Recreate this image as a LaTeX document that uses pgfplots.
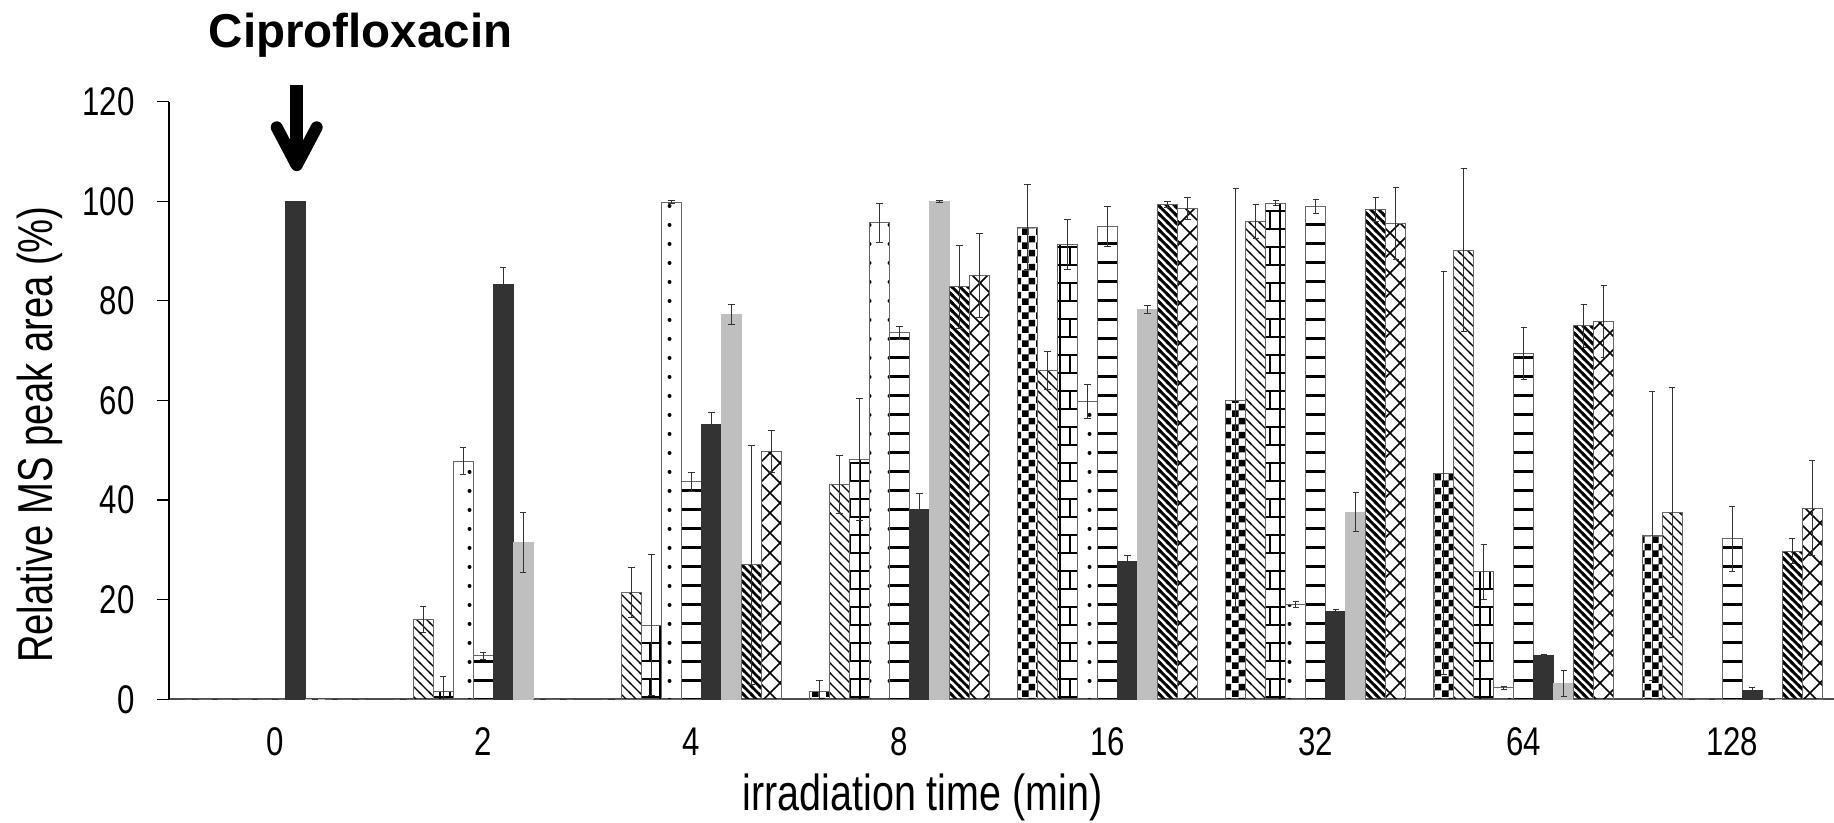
\documentclass[border=0pt]{standalone}
\usepackage{pgfplots}
\pgfplotsset{compat=1.18}
\usetikzlibrary{patterns}
\usepackage{fontspec}
\setmainfont{Liberation Sans}[FakeStretch=0.78]
\newfontfamily\titlefont{Liberation Sans}

% checkerboard
\pgfdeclarepatternformonly{pchecker}{\pgfqpoint{0pt}{0pt}}{\pgfqpoint{7pt}{7pt}}{\pgfqpoint{7pt}{7pt}}{%
  \pgfpathrectangle{\pgfqpoint{0pt}{0pt}}{\pgfqpoint{3.5pt}{3.5pt}}%
  \pgfpathrectangle{\pgfqpoint{3.5pt}{3.5pt}}{\pgfqpoint{3.5pt}{3.5pt}}%
  \pgfusepath{fill}}
% thin diagonal "\"
\pgfdeclarepatternformonly{pthindiag}{\pgfqpoint{-1pt}{-1pt}}{\pgfqpoint{6pt}{6pt}}{\pgfqpoint{5pt}{5pt}}{%
  \pgfsetlinewidth{0.6pt}%
  \pgfpathmoveto{\pgfqpoint{-0.5pt}{5.5pt}}\pgfpathlineto{\pgfqpoint{5.5pt}{-0.5pt}}%
  \pgfusepath{stroke}}
% bold diagonal "\"
\pgfdeclarepatternformonly{pbolddiag}{\pgfqpoint{-1pt}{-1pt}}{\pgfqpoint{5pt}{5pt}}{\pgfqpoint{4pt}{4pt}}{%
  \pgfsetlinewidth{1.4pt}%
  \pgfpathmoveto{\pgfqpoint{-1pt}{5pt}}\pgfpathlineto{\pgfqpoint{5pt}{-1pt}}%
  \pgfusepath{stroke}}
% ladder / brick
\pgfdeclarepatternformonly{pbrick}{\pgfqpoint{-1pt}{-1pt}}{\pgfqpoint{11pt}{19pt}}{\pgfqpoint{10pt}{18pt}}{%
  \pgfsetlinewidth{1.4pt}%
  \pgfpathmoveto{\pgfqpoint{-1pt}{0pt}}\pgfpathlineto{\pgfqpoint{11pt}{0pt}}%
  \pgfpathmoveto{\pgfqpoint{-1pt}{9pt}}\pgfpathlineto{\pgfqpoint{11pt}{9pt}}%
  \pgfpathmoveto{\pgfqpoint{0pt}{-1pt}}\pgfpathlineto{\pgfqpoint{0pt}{19pt}}%
  \pgfpathmoveto{\pgfqpoint{5pt}{9pt}}\pgfpathlineto{\pgfqpoint{5pt}{18pt}}%
  \pgfusepath{stroke}}
% dots column
\pgfdeclarepatternformonly{pdots}{\pgfqpoint{0pt}{0pt}}{\pgfqpoint{10pt}{9.5pt}}{\pgfqpoint{10pt}{9.5pt}}{%
  \pgfpathcircle{\pgfqpoint{5pt}{4.75pt}}{1.05pt}%
  \pgfusepath{fill}}
% horizontal lines
\pgfdeclarepatternformonly{phoriz}{\pgfqpoint{-1pt}{0pt}}{\pgfqpoint{11pt}{9.5pt}}{\pgfqpoint{10pt}{9.5pt}}{%
  \pgfsetlinewidth{1.6pt}%
  \pgfpathmoveto{\pgfqpoint{-1pt}{4.75pt}}\pgfpathlineto{\pgfqpoint{11pt}{4.75pt}}%
  \pgfusepath{stroke}}
% diamond crosshatch
\pgfdeclarepatternformonly{pcross}{\pgfqpoint{-0.5pt}{-0.5pt}}{\pgfqpoint{10.5pt}{10.5pt}}{\pgfqpoint{10pt}{10pt}}{%
  \pgfsetlinewidth{0.8pt}%
  \pgfpathmoveto{\pgfqpoint{-0.5pt}{-0.5pt}}\pgfpathlineto{\pgfqpoint{10.5pt}{10.5pt}}%
  \pgfpathmoveto{\pgfqpoint{-0.5pt}{10.5pt}}\pgfpathlineto{\pgfqpoint{10.5pt}{-0.5pt}}%
  \pgfusepath{stroke}}

\pgfplotsset{
  eb/.style={error bars/.cd, y dir=both, y explicit,
    error bar style={line width=0.5pt, black!80},
    error mark options={rotate=90, mark size=1.6pt, line width=0.5pt, black!80}},
  pat/.style={draw=black!60, line width=0.5pt, pattern=#1, pattern color=black, eb},
}

\begin{document}
\begin{tikzpicture}
\begin{axis}[
  scale only axis, width=832.5pt, height=298.8pt,
  at={(0,0)}, anchor=south west,
  xmin=-0.51, xmax=7.49, ymin=0, ymax=120,
  enlarge x limits=false, enlarge y limits=false,
  ybar=0pt, bar width=10pt,
  axis x line=bottom, axis y line=left,
  x axis line style={-, line width=1pt, black!70},
  y axis line style={-, line width=0.6pt, black},
  xtick={0,...,7}, xticklabels={0,2,4,8,16,32,64,128},
  xtick style={draw=none},
  ytick={0,20,...,120},
  tick align=outside, major tick length=6pt,
  ytick style={black, line width=0.6pt},
  /pgf/number format/assume math mode=true,
  tick label style={font=\fontsize{20}{24}\selectfont},
  xticklabel style={anchor=north, inner sep=0pt, yshift=-8pt},
  yticklabel style={anchor=east, inner sep=0pt, xshift=-11pt},
  xlabel={irradiation time (min)},
  ylabel={Relative MS peak area (\%)},
  ylabel style={font=\fontsize{24.5}{29}\selectfont, at={(rel axis cs:-0.0775,0.443)}, anchor=center},
  xlabel style={font=\fontsize{25.3}{30}\selectfont, at={(rel axis cs:0.4526,0)}, anchor=base, yshift=-55.5pt},
]
% checkerboard
\addplot[pat=pchecker] coordinates {(0,0) +- (0,0) (1,0) +- (0,0) (2,0) +- (0,0) (3,1.5) +- (0,2.3) (4,94.8) +- (0,8.5) (5,60) +- (0,42.5) (6,45.4) +- (0,40.5) (7,32.8) +- (0,29)};
% thin diagonal
\addplot[pat=pthindiag] coordinates {(0,0) +- (0,0) (1,16.0) +- (0,2.6) (2,21.5) +- (0,5) (3,43.1) +- (0,5.8) (4,66.1) +- (0,3.8) (5,95.9) +- (0,3.4) (6,90.2) +- (0,16.4) (7,37.6) +- (0,25.1)};
% ladder / brick
\addplot[pat=pbrick] coordinates {(0,0) +- (0,0) (1,1.5) +- (0,3) (2,14.9) +- (0,14.2) (3,48.2) +- (0,12.3) (4,91.3) +- (0,5) (5,99.6) +- (0,0.5) (6,25.6) +- (0,5.5) (7,0) +- (0,0)};
% dotted
\addplot[pat=pdots] coordinates {(0,0) +- (0,0) (1,47.8) +- (0,2.7) (2,99.8) +- (0,0.3) (3,95.7) +- (0,3.9) (4,59.8) +- (0,3.4) (5,19.0) +- (0,0.6) (6,2.3) +- (0,0.3) (7,0) +- (0,0)};
% horizontal lines
\addplot[pat=phoriz] coordinates {(0,0) +- (0,0) (1,8.7) +- (0,0.7) (2,43.7) +- (0,1.9) (3,73.6) +- (0,1.3) (4,95.0) +- (0,4) (5,99.0) +- (0,1.4) (6,69.4) +- (0,5.2) (7,32.2) +- (0,6.6)};
% dark solid
\addplot[fill=black!80, draw=black!80, line width=0.5pt, eb] coordinates {(0,100) +- (0,0) (1,83.3) +- (0,3.4) (2,55.2) +- (0,2.3) (3,38.2) +- (0,3.2) (4,27.6) +- (0,1.3) (5,17.7) +- (0,0.3) (6,8.7) +- (0,0.3) (7,1.7) +- (0,0.7)};
% light gray solid
\addplot[fill=black!25, draw=black!25, line width=0.5pt, eb] coordinates {(0,0) +- (0,0) (1,31.5) +- (0,6) (2,77.2) +- (0,2) (3,100) +- (0,0.2) (4,78.2) +- (0,0.8) (5,37.6) +- (0,3.9) (6,3.1) +- (0,2.6) (7,0) +- (0,0)};
% bold diagonal
\addplot[pat=pbolddiag] coordinates {(0,0) +- (0,0) (1,0) +- (0,0) (2,27.0) +- (0,24) (3,82.8) +- (0,8.4) (4,99.3) +- (0,0.6) (5,98.4) +- (0,2.4) (6,75.0) +- (0,4.3) (7,29.7) +- (0,2.5)};
% diamond crosshatch
\addplot[pat=pcross] coordinates {(0,0) +- (0,0) (1,0) +- (0,0) (2,49.7) +- (0,4.2) (3,85.1) +- (0,8.4) (4,98.5) +- (0,2.2) (5,95.6) +- (0,7.2) (6,75.9) +- (0,7.2) (7,38.4) +- (0,9.5)};
\end{axis}
% title and arrow
\node[font=\titlefont\bfseries\fontsize{23.75}{28}\selectfont, anchor=center] at (95.75pt,331.9pt) {Ciprofloxacin};
\draw[line width=6.5pt] (63.85pt,307.15pt) -- (63.85pt,270pt);
\draw[line width=6pt, line cap=round, line join=round] (53.85pt,286pt) -- (63.85pt,267.05pt) -- (73.85pt,286pt);
\pgfresetboundingbox
\path[use as bounding box] (-84.5pt,-61.85pt) rectangle (832.5pt,349.65pt);
\end{tikzpicture}
\end{document}
